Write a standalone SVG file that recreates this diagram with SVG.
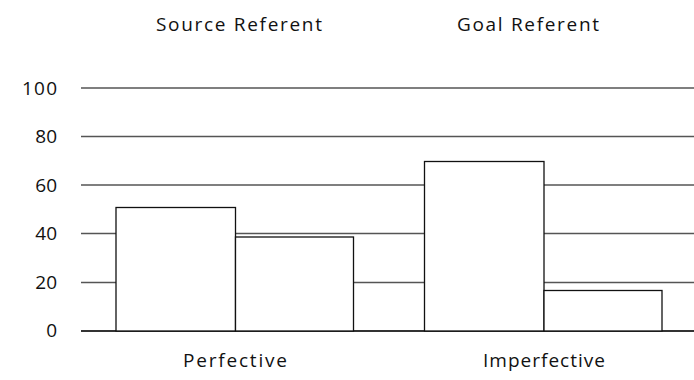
<svg xmlns="http://www.w3.org/2000/svg" width="694" height="380" viewBox="0 0 694 380">
  <style>
    .grid { stroke: #555; stroke-width: 1.3; fill: none; }
    .axis { stroke: #333; stroke-width: 1.8; fill: none; }
    .bar { fill: #fff; stroke: #111; stroke-width: 1.3; }
    text { font-family: "Open Sans", "Liberation Sans", sans-serif; font-size: 19px; fill: #111; }
    .tick { text-anchor: end; }
    .mid { text-anchor: middle; }
  </style>
  <rect width="694" height="380" fill="#fff"/>

  <!-- horizontal grid lines, 0 to 100 -->
  <g id="grid">
    <line class="grid" x1="81" y1="88" x2="694" y2="88"/>
    <line class="grid" x1="81" y1="136.5" x2="694" y2="136.5"/>
    <line class="grid" x1="81" y1="185" x2="694" y2="185"/>
    <line class="grid" x1="81" y1="233.5" x2="694" y2="233.5"/>
    <line class="grid" x1="81" y1="282.5" x2="694" y2="282.5"/>
    <line class="axis" x1="81" y1="331" x2="694" y2="331"/>
  </g>

  <g id="y-labels">
    <text class="tick" x="57" y="95" textLength="35">100</text>
    <text class="tick" x="57" y="143">80</text>
    <text class="tick" x="57" y="192">60</text>
    <text class="tick" x="57" y="240">40</text>
    <text class="tick" x="57" y="289">20</text>
    <text class="tick" x="57" y="337">0</text>
  </g>

  <g id="legend">
    <text class="mid" x="239" y="31" textLength="166">Source Referent</text>
    <text class="mid" x="528" y="31" textLength="142">Goal Referent</text>
  </g>

  <g id="bar-perfective-source">
    <rect class="bar" x="116" y="207.5" width="119.5" height="123.5"/>
  </g>
  <g id="bar-perfective-goal">
    <rect class="bar" x="235.5" y="237" width="118" height="94"/>
  </g>
  <g id="bar-imperfective-source">
    <rect class="bar" x="424.5" y="161.5" width="119.5" height="169.5"/>
  </g>
  <g id="bar-imperfective-goal">
    <rect class="bar" x="544" y="290.5" width="118" height="40.5"/>
  </g>

  <g id="x-labels">
    <text class="mid" x="235" y="367" textLength="104">Perfective</text>
    <text class="mid" x="544" y="367" textLength="122">Imperfective</text>
  </g>
</svg>
